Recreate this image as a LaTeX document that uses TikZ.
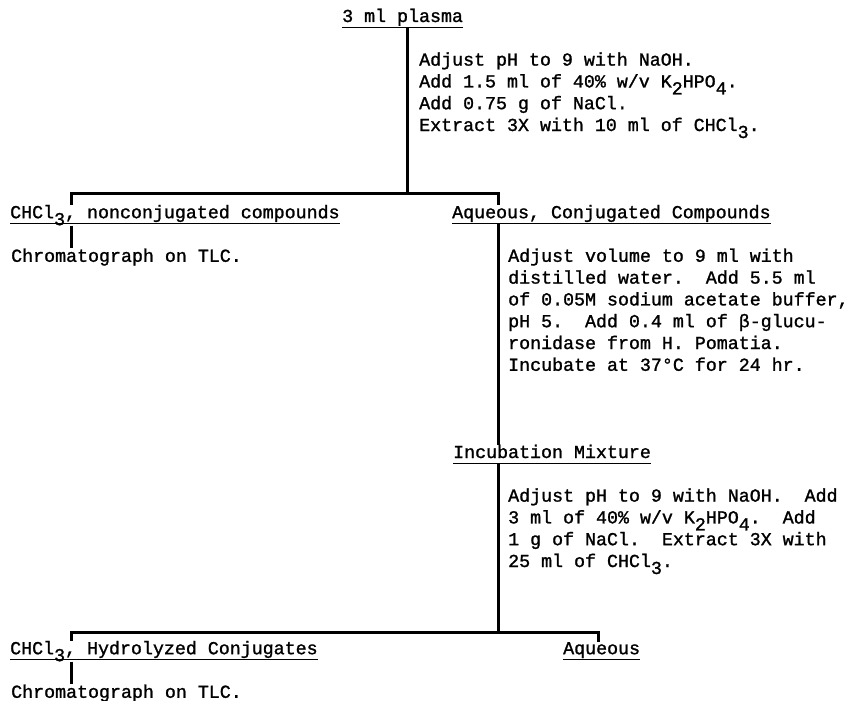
\documentclass[tikz,border=0pt]{standalone}
\usepackage{fontspec}
\newfontfamily\twfont{Liberation Mono}[RawFeature={embolden=1.3}]
\newcommand\tw{\twfont\fontsize{18.3}{21.8}\selectfont\frenchspacing}
\newcommand\sub[1]{\raisebox{-7pt}{#1}}
\newcommand\undl[1]{\setbox0\hbox{#1}\rlap{\copy0}\rule[-5.5pt]{\wd0}{0.9pt}}
\usetikzlibrary{positioning}

\begin{document}
\begin{tikzpicture}[
    x=1pt, y=-1pt,
    txt/.style={
        anchor=base west,
        inner sep=0pt,
        align=left,
        font=\tw
    },
    head/.style={
        anchor=base west,
        inner sep=0pt,
        font=\tw
    },
    flow/.style={
        line width=3pt
    }
]
\useasboundingbox (0,0) rectangle (851,701);

% === First extraction ===
\node[head] (plasma) at (342,22) {\undl{3 ml plasma}};
% (base of a block = its last line)
\node[txt] (step1) at (419,131) {Adjust pH to 9 with NaOH.\\Add 1.5 ml of 40\% w/v K\sub{2}HPO\sub{4}.\\Add 0.75 g of NaCl.\\Extract 3X with 10 ml of CHCl\sub{3}.};

\coordinate (split1) at (407,193);
\coordinate (left1) at (71,193);
\coordinate (right1) at (498,193);

% === Branches ===
\node[head] (org1) at (10,218.2) {\undl{CHCl\sub{3}, nonconjugated compounds}};
\node[head] (aq1) at (452,218.2) {\undl{Aqueous, Conjugated Compounds}};
\node[head] (tlc1) at (11,261.8) {Chromatograph on TLC.};
\node[txt] (step2) at (508,370.8) {Adjust volume to 9 ml with\\distilled water.\ \ Add 5.5 ml\\of 0.05M sodium acetate buffer,\\pH 5.\ \ Add 0.4 ml of β-glucu-\\ronidase from H. Pomatia.\\Incubate at 37°C for 24 hr.};

% === Hydrolysis ===
\node[head] (incub) at (453,458) {\undl{Incubation Mixture}};
\node[txt] (step3) at (508,567) {Adjust pH to 9 with NaOH.\ \ Add\\3 ml of 40\% w/v K\sub{2}HPO\sub{4}.\ \ Add\\1 g of NaCl.\ \ Extract 3X with\\25 ml of CHCl\sub{3}.};

\coordinate (split2) at (498,632);
\coordinate (left2) at (71,632);
\coordinate (right2) at (598,632);

\node[head] (org2) at (10,654.2) {\undl{CHCl\sub{3}, Hydrolyzed Conjugates}};
\node[head] (aq2) at (563,654.2) {\undl{Aqueous}};
\node[head] (tlc2) at (11,697.8) {Chromatograph on TLC.};

% === Connectors ===
\draw[flow] (plasma.south -| split1) -- (split1);
\draw[flow] (org1.north -| left1) -- (left1) -- (right1) -- (aq1.north -| right1);
\draw[flow] (org1.south -| left1) -- (tlc1.north -| left1);
\draw[flow] (aq1.south -| right1) -- (incub.north -| right1);
\draw[flow] (incub.south -| split2) -- (split2);
\draw[flow] (org2.north -| left2) -- (left2) -- (right2) -- (aq2.north -| right2);
\draw[flow] (org2.south -| left2) -- (tlc2.north -| left2);

\end{tikzpicture}
\end{document}
